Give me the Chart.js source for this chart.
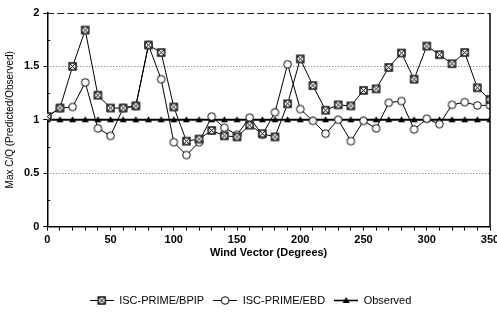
<!DOCTYPE html>
<html>
<head>
<meta charset="utf-8">
<script src="https://cdn.jsdelivr.net/npm/chart.js@4/dist/chart.umd.min.js"></script>
<style>
  html, body { margin: 0; padding: 0; background: #fff; }
  #wrap { width: 497px; height: 312px; }
</style>
</head>
<body>
<div id="wrap"><canvas id="chart"></canvas></div>
<script>
const degrees = [0, 10, 20, 30, 40, 50, 60, 70, 80, 90, 100, 110, 120, 130, 140, 150, 160, 170,
  180, 190, 200, 210, 220, 230, 240, 250, 260, 270, 280, 290, 300, 310, 320, 330, 340, 350];
const bpip = [1.03, 1.11, 1.50, 1.84, 1.23, 1.11, 1.11, 1.13, 1.70, 1.63, 1.12, 0.80, 0.82, 0.90, 0.85, 0.84, 0.95, 0.87,
  0.84, 1.15, 1.57, 1.32, 1.09, 1.14, 1.13, 1.275, 1.29, 1.49, 1.625, 1.38, 1.69, 1.61, 1.525, 1.63, 1.30, 1.19];
const ebd = [1.03, 1.11, 1.12, 1.35, 0.92, 0.85, 1.11, 1.13, 1.70, 1.38, 0.79, 0.67, 0.79, 1.03, 0.925, 0.86, 1.02, 0.86,
  1.07, 1.52, 1.10, 0.99, 0.87, 1.00, 0.80, 0.99, 0.92, 1.16, 1.175, 0.91, 1.01, 0.96, 1.14, 1.165, 1.135, 1.135];
const observed = [1, 1, 1, 1, 1, 1, 1, 1, 1, 1, 1, 1, 1, 1, 1, 1, 1, 1,
  1, 1, 1, 1, 1, 1, 1, 1, 1, 1, 1, 1, 1, 1, 1, 1, 1, 1];
const seriesNames = ["ISC-PRIME/BPIP", "ISC-PRIME/EBD", "Observed"];
const xTicks = [0, 50, 100, 150, 200, 250, 300, 350];
const yGrid = [0.5, 1.5];
const yMinor = [0.25, 0.75, 1.25, 1.75];

const FONT = "'Liberation Sans', Arial, sans-serif";

function makeCanvas(w, h) {
  const c = document.createElement("canvas");
  c.width = w;
  c.height = h;
  return c;
}

// marker drawers (centered at cx, cy)
function drawBox(ctx, cx, cy) {
  ctx.fillStyle = "#fff";
  ctx.fillRect(cx - 4, cy - 4, 8, 8);
  ctx.strokeStyle = "#000";
  ctx.lineWidth = 1.4;
  ctx.strokeRect(cx - 3.5, cy - 3.5, 7, 7);
  ctx.lineWidth = 1;
  ctx.beginPath();
  ctx.moveTo(cx - 3, cy - 3); ctx.lineTo(cx + 3, cy + 3);
  ctx.moveTo(cx + 3, cy - 3); ctx.lineTo(cx - 3, cy + 3);
  ctx.stroke();
}
function drawCircle(ctx, cx, cy) {
  ctx.fillStyle = "#fff";
  ctx.strokeStyle = "#000";
  ctx.lineWidth = 1;
  ctx.beginPath();
  ctx.arc(cx, cy, 3.8, 0, Math.PI * 2);
  ctx.fill();
  ctx.stroke();
}
function drawTri(ctx, cx, cy) {
  ctx.fillStyle = "#000";
  ctx.beginPath();
  ctx.moveTo(cx, cy - 3.5);
  ctx.lineTo(cx + 3.5, cy + 2.5);
  ctx.lineTo(cx - 3.5, cy + 2.5);
  ctx.closePath();
  ctx.fill();
}

function markerImage(draw) {
  const c = makeCanvas(11, 11);
  draw(c.getContext("2d"), 5.5, 5.5);
  return c;
}
function legendImage(draw, lineWidth) {
  const c = makeCanvas(24, 11);
  const ctx = c.getContext("2d");
  ctx.strokeStyle = "#000";
  ctx.lineWidth = lineWidth;
  ctx.beginPath();
  ctx.moveTo(0, 5.5);
  ctx.lineTo(24, 5.5);
  ctx.stroke();
  draw(ctx, 12, 5.5);
  return c;
}

const boxMarker = markerImage(drawBox);
const circleMarker = markerImage(drawCircle);
const triMarker = markerImage(drawTri);
const legendIcons = [legendImage(drawBox, 1), legendImage(drawCircle, 1), legendImage(drawTri, 1.6)];

const toPoints = (arr) => arr.map((v, i) => ({ x: degrees[i], y: v }));

// dotted grid, dashed top edge, right border, minor y ticks
const framePlugin = {
  id: "frame",
  beforeDatasetsDraw(chart) {
    const { ctx, chartArea, scales } = chart;
    const y = scales.y;
    ctx.save();
    ctx.lineWidth = 1;
    ctx.strokeStyle = "#666";
    ctx.setLineDash([1, 2]);
    yGrid.forEach((v) => {
      const py = Math.round(y.getPixelForValue(v)) + 0.5;
      ctx.beginPath();
      ctx.moveTo(chartArea.left, py);
      ctx.lineTo(chartArea.right, py);
      ctx.stroke();
    });
    ctx.strokeStyle = "#222";
    ctx.lineWidth = 1.2;
    ctx.setLineDash([7, 3]);
    const top = Math.round(y.getPixelForValue(2)) + 0.5;
    ctx.beginPath();
    ctx.moveTo(chartArea.left, top);
    ctx.lineTo(chartArea.right, top);
    ctx.stroke();
    ctx.setLineDash([]);
    ctx.strokeStyle = "#000";
    ctx.lineWidth = 1;
    yMinor.forEach((v) => {
      const py = Math.round(y.getPixelForValue(v)) + 0.5;
      ctx.beginPath();
      ctx.moveTo(chartArea.left, py);
      ctx.lineTo(chartArea.left + 3, py);
      ctx.stroke();
    });
    ctx.restore();
  },
  afterDatasetsDraw(chart) {
    const { ctx, chartArea } = chart;
    ctx.save();
    ctx.strokeStyle = "#000";
    ctx.lineWidth = 1.5;
    ctx.beginPath();
    ctx.moveTo(chartArea.right, chartArea.top);
    ctx.lineTo(chartArea.right, chartArea.bottom);
    ctx.stroke();
    ctx.restore();
  },
};

new Chart(document.getElementById("chart"), {
  type: "line",
  data: {
    datasets: [
      {
        label: seriesNames[0],
        data: toPoints(bpip),
        borderColor: "#000",
        borderWidth: 1,
        pointStyle: boxMarker,
        pointRadius: 4,
        tension: 0,
      },
      {
        label: seriesNames[1],
        data: toPoints(ebd),
        borderColor: "#000",
        borderWidth: 1,
        pointStyle: circleMarker,
        pointRadius: 4,
        tension: 0,
      },
      {
        label: seriesNames[2],
        data: toPoints(observed),
        borderColor: "#000",
        borderWidth: 2,
        pointStyle: triMarker,
        pointRadius: 4,
        tension: 0,
      },
    ],
  },
  options: {
    responsive: true,
    maintainAspectRatio: false,
    animation: false,
    layout: { padding: { left: 4, right: 0, top: 13, bottom: -4 } },
    plugins: {
      tooltip: { enabled: false },
      legend: {
        position: "bottom",
        labels: {
          usePointStyle: true,
          pointStyleWidth: 24,
          padding: 9,
          color: "#000",
          font: { family: FONT, size: 11 },
          generateLabels: (chart) =>
            chart.data.datasets.map((ds, i) => ({
              text: ds.label,
              pointStyle: legendIcons[i],
              fillStyle: "#000",
              strokeStyle: "#000",
              lineWidth: 0,
              hidden: false,
              datasetIndex: i,
            })),
        },
      },
    },
    scales: {
      x: {
        type: "linear",
        min: 0,
        max: 350,
        afterBuildTicks: (axis) => {
          axis.ticks = degrees.map((v) => ({ value: v }));
        },
        afterFit: (axis) => {
          axis.paddingRight = 7;
        },
        ticks: {
          autoSkip: false,
          maxRotation: 0,
          padding: 3,
          color: "#000",
          font: { family: FONT, size: 11, weight: "bold" },
          callback: (v) => (xTicks.includes(v) ? String(v) : ""),
        },
        grid: { drawOnChartArea: false, drawTicks: true, tickLength: 4, color: "#000" },
        border: { display: true, color: "#000", width: 1.5 },
        title: {
          display: true,
          text: "Wind Vector (Degrees)",
          color: "#000",
          font: { family: FONT, size: 11, weight: "bold" },
          padding: { top: -3, bottom: 26 },
        },
      },
      y: {
        min: 0,
        max: 2,
        ticks: {
          stepSize: 0.5,
          padding: 4,
          color: "#000",
          font: { family: FONT, size: 11, weight: "bold" },
          callback: (v) => String(v),
        },
        grid: { drawOnChartArea: false, drawTicks: true, tickLength: 4, color: "#000" },
        border: { display: true, color: "#000", width: 1.5 },
        title: {
          display: true,
          text: "Max C/Q (Predicted/Observed)",
          color: "#000",
          font: { family: FONT, size: 10 },
          padding: { top: 0, bottom: 4 },
        },
      },
    },
  },
  plugins: [framePlugin],
});
</script>
</body>
</html>
